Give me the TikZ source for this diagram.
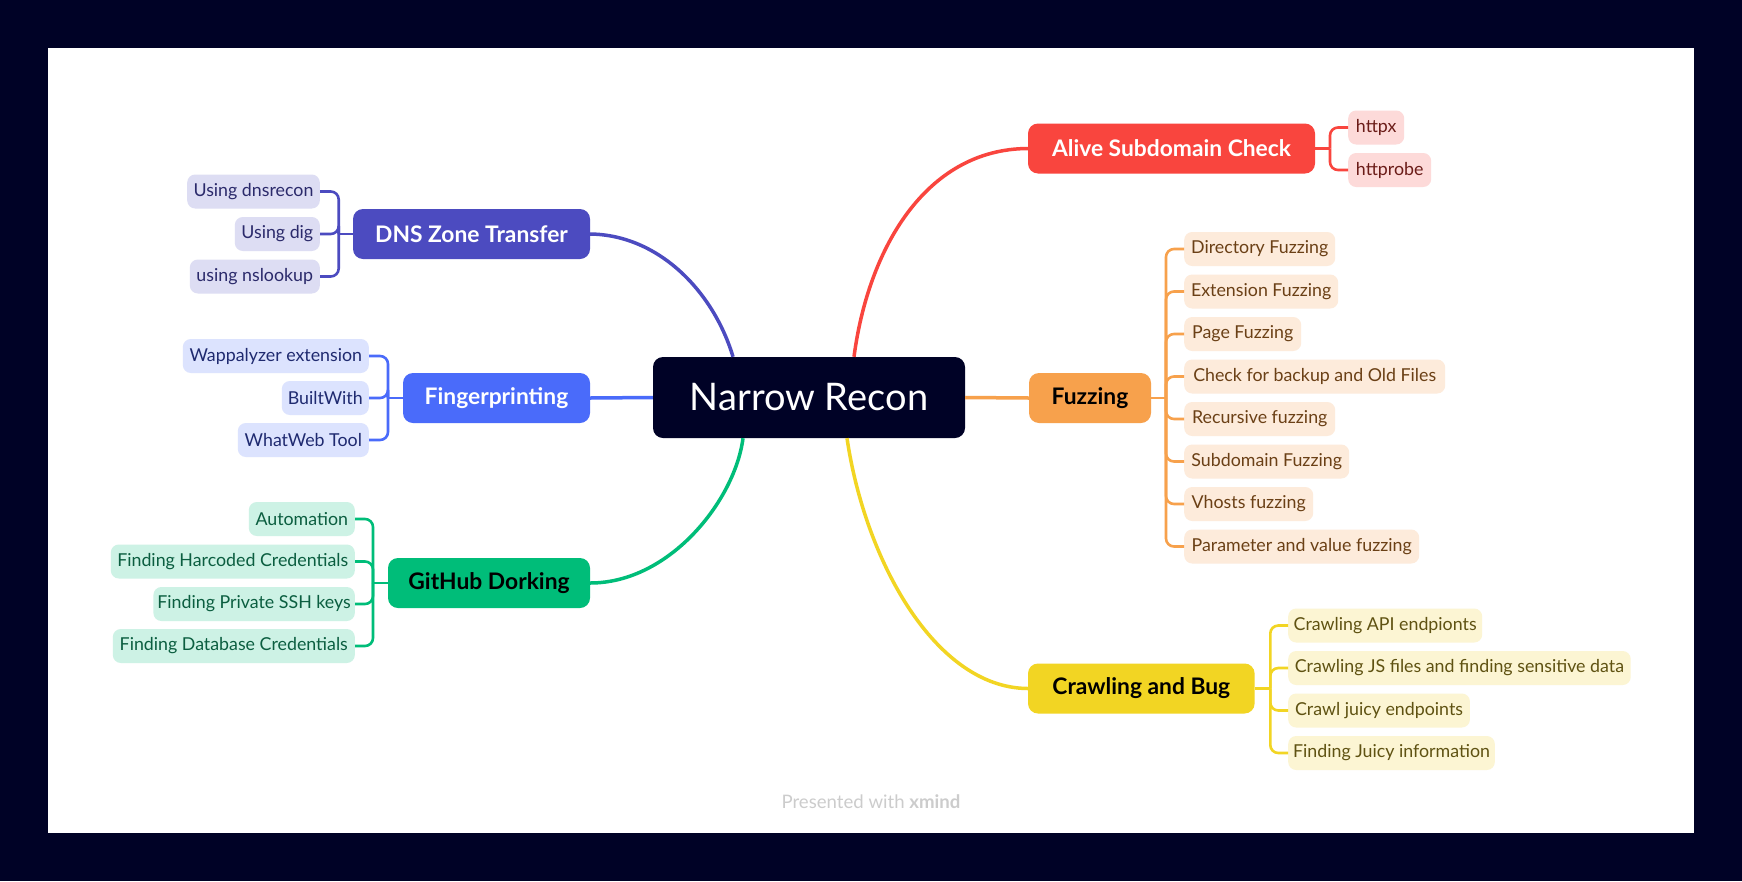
\documentclass[tikz,border=0pt]{standalone}
\usepackage{fontspec}
\setmainfont{Lato}
\usetikzlibrary{calc}

% palette
\definecolor{night}{HTML}{000226}
\definecolor{dnsC}{HTML}{4C4BC0}
\definecolor{dnsL}{HTML}{DDDDF3}
\definecolor{dnsT}{HTML}{2B2A6B}
\definecolor{fpC}{HTML}{4A6BFA}
\definecolor{fpL}{HTML}{DCE3FE}
\definecolor{fpT}{HTML}{1F2A70}
\definecolor{ghC}{HTML}{00BD79}
\definecolor{ghL}{HTML}{CDF2E5}
\definecolor{ghT}{HTML}{0B5E40}
\definecolor{alC}{HTML}{F9453E}
\definecolor{alL}{HTML}{FDDAD9}
\definecolor{alT}{HTML}{6B1C18}
\definecolor{fzC}{HTML}{F7A14C}
\definecolor{fzL}{HTML}{FDEBDB}
\definecolor{fzT}{HTML}{6B4016}
\definecolor{crC}{HTML}{F2D523}
\definecolor{crL}{HTML}{FCF5D3}
\definecolor{crT}{HTML}{5F5212}
\definecolor{footC}{HTML}{CCCCCC}

\tikzset{
  rootbox/.style={rounded corners=10pt, inner sep=0pt, fill=night, text=white,
    minimum width=312pt, minimum height=81pt,
    font=\fontsize{38}{44}\selectfont},
  topicbox/.style={rounded corners=10pt, inner xsep=6pt, inner ysep=0pt,
    minimum height=50pt, font=\fontsize{22.8}{26}\selectfont\bfseries},
  leafbox/.style={rounded corners=8pt, inner xsep=4pt, inner ysep=0pt,
    minimum height=34pt, font=\fontsize{17.8}{21}\selectfont},
  trunk/.style={line width=3.5pt},
  twig/.style={line width=2.6pt, rounded corners=8pt},
}

\begin{document}
\begin{tikzpicture}[x=1pt, y=-1pt]
\useasboundingbox (0,0) rectangle (1742,881);
\fill[night] (0,0) rectangle (1742,881);
\fill[white] (48,48) rectangle (1694,833);

% central topic
\node[rootbox] (root) at (809,397.5) {Narrow Recon};

% main topics
\node[topicbox, fill=dnsC, text=white, minimum width=237pt] (dns) at (471.5,234) {DNS Zone Transfer};
\node[topicbox, fill=fpC, text=white, minimum width=187pt] (fp) at (496.5,398) {Fingerprinting};
\node[topicbox, fill=ghC, text=black, minimum width=202pt] (gh) at (489,583) {GitHub Dorking};
\node[topicbox, fill=alC, text=white, minimum width=287pt] (al) at (1171.5,148.5) {Alive Subdomain Check};
\node[topicbox, fill=fzC, text=black, minimum width=122pt] (fz) at (1090,398) {Fuzzing};
\node[topicbox, fill=crC, text=black, minimum width=226.6pt] (cr) at (1141.3,688.5) {Crawling and Bug};

% links from the centre
\draw[trunk, dnsC] (dns.east) .. controls (660,235) and (714,293) .. ([xshift=-76pt]root.north);
\draw[trunk, fpC] (fp.east) -- (root.west);
\draw[trunk, ghC] ([xshift=-66pt]root.south) .. controls (735,500) and (670,583) .. (gh.east);
\draw[trunk, alC] ([xshift=45pt]root.north) .. controls (868,250) and (925,149) .. (al.west);
\draw[trunk, fzC] (root.east) -- (fz.west);
\draw[trunk, crC] ([xshift=38pt]root.south) .. controls (865,560) and (935,688) .. (cr.west);

% DNS Zone Transfer leaves
\begin{scope}[every node/.style={leafbox, fill=dnsL, text=dnsT, anchor=east}]
\node[minimum width=132.6pt] (d1) at (320,191.5) {Using dnsrecon};
\node[minimum width=85pt]    (d2) at (320,234) {Using dig};
\node[minimum width=130pt]   (d3) at (320,276.5) {using nslookup};
\end{scope}
\coordinate (dj) at (338.7,234);
\draw[twig, dnsC] (dj) -- (dns.west);
\foreach \n in {d1,d2,d3} \draw[twig, dnsC] (\n.east) -| (dj);

% Fingerprinting leaves
\begin{scope}[every node/.style={leafbox, fill=fpL, text=fpT, anchor=east}]
\node[minimum width=186pt] (f1) at (369,356) {Wappalyzer extension};
\node[minimum width=87pt]  (f2) at (369,398) {BuiltWith};
\node[minimum width=131pt] (f3) at (369,440) {WhatWeb Tool};
\end{scope}
\coordinate (fj) at (388,398);
\draw[twig, fpC] (fj) -- (fp.west);
\foreach \n in {f1,f2,f3} \draw[twig, fpC] (\n.east) -| (fj);

% GitHub Dorking leaves
\begin{scope}[every node/.style={leafbox, fill=ghL, text=ghT, anchor=east}]
\node[minimum width=106pt] (g1) at (355,519) {Automation};
\node[minimum width=244pt] (g2) at (355,561.5) {Finding Harcoded Credentials};
\node[minimum width=201pt] (g3) at (355,604) {Finding Private SSH keys};
\node[minimum width=242pt] (g4) at (355,646) {Finding Database Credentials};
\end{scope}
\coordinate (gj) at (373,583);
\draw[twig, ghC] (gj) -- (gh.west);
\foreach \n in {g1,g2,g3,g4} \draw[twig, ghC] (\n.east) -| (gj);

% Alive Subdomain Check leaves
\begin{scope}[every node/.style={leafbox, fill=alL, text=alT, anchor=west}]
\node[minimum width=56pt] (a1) at (1348,127.5) {httpx};
\node[minimum width=83pt] (a2) at (1348,170) {httprobe};
\end{scope}
\coordinate (aj) at (1330,148.5);
\draw[twig, alC] (al.east) -- (aj);
\foreach \n in {a1,a2} \draw[twig, alC] (\n.west) -| (aj);

% Fuzzing leaves
\begin{scope}[every node/.style={leafbox, fill=fzL, text=fzT, anchor=west}]
\node[minimum width=151pt] (z1) at (1184,249) {Directory Fuzzing};
\node[minimum width=154pt] (z2) at (1184,291.5) {Extension Fuzzing};
\node[minimum width=117pt] (z3) at (1184,334) {Page Fuzzing};
\node[minimum width=261pt] (z4) at (1184,376.5) {Check for backup and Old Files};
\node[minimum width=151pt] (z5) at (1184,419) {Recursive fuzzing};
\node[minimum width=165pt] (z6) at (1184,461.5) {Subdomain Fuzzing};
\node[minimum width=129pt] (z7) at (1184,504) {Vhosts fuzzing};
\node[minimum width=235pt] (z8) at (1184,546.5) {Parameter and value fuzzing};
\end{scope}
\coordinate (zj) at (1166,398);
\draw[twig, fzC] (fz.east) -- (zj);
\foreach \n in {z1,z2,z3,z4,z5,z6,z7,z8} \draw[twig, fzC] (\n.west) -| (zj);

% Crawling and Bug leaves
\begin{scope}[every node/.style={leafbox, fill=crL, text=crT, anchor=west}]
\node[minimum width=194pt]   (c1) at (1288,625.5) {Crawling API endpionts};
\node[minimum width=342.5pt] (c2) at (1288,668) {Crawling JS files and finding sensitive data};
\node[minimum width=181.7pt] (c3) at (1288,710.5) {Crawl juicy endpoints};
\node[minimum width=206.6pt] (c4) at (1288,753) {Finding Juicy information};
\end{scope}
\coordinate (cj) at (1270.3,688.5);
\draw[twig, crC] (cr.east) -- (cj);
\foreach \n in {c1,c2,c3,c4} \draw[twig, crC] (\n.west) -| (cj);

% footer
\node[text=footC, font=\fontsize{18.6}{22}\selectfont] (foot) at (871,802) {Presented with \textbf{xmind}};
\end{tikzpicture}
\end{document}
